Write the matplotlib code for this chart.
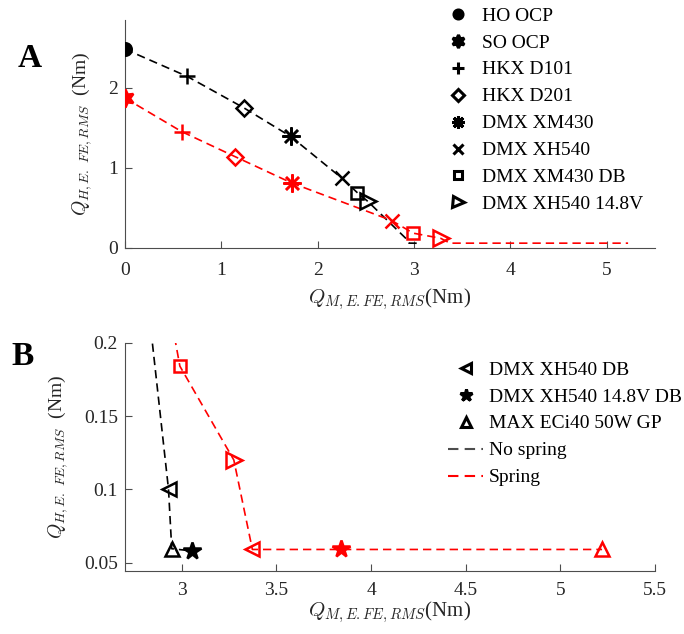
import numpy as np
import matplotlib
matplotlib.use("Agg")
import matplotlib.pyplot as plt
from matplotlib.lines import Line2D

plt.rcParams['font.family'] = 'serif'
plt.rcParams['font.serif'] = ['Liberation Serif', 'DejaVu Serif']
plt.rcParams['mathtext.fontset'] = 'cm'

# device names
names = ["HO OCP", "SO OCP", "HKX D101", "HKX D201", "DMX XM430", "DMX XH540",
         "DMX XM430 DB", "DMX XH540 14.8V", "DMX XH540 DB", "DMX XH540 14.8V DB",
         "MAX ECi40 50W GP"]

# no spring (black)
ns_names = ["HO OCP", "HKX D101", "HKX D201", "DMX XM430", "DMX XH540", "DMX XM430 DB",
            "DMX XH540 14.8V", "DMX XH540 DB", "MAX ECi40 50W GP", "DMX XH540 14.8V DB"]
ns_x = [0.0, 0.645, 1.23, 1.72, 2.25, 2.41, 2.52, 2.93, 2.947, 3.054]
ns_y = [2.48, 2.14, 1.75, 1.39, 0.87, 0.69, 0.58, 0.100, 0.0595, 0.058]

# spring (red)
sp_names = ["SO OCP", "HKX D101", "HKX D201", "DMX XM430", "DMX XH540", "DMX XM430 DB",
            "DMX XH540 14.8V", "DMX XH540 DB", "DMX XH540 14.8V DB", "MAX ECi40 50W GP"]
sp_x = [0.0, 0.59, 1.14, 1.73, 2.77, 2.99, 3.275, 3.373, 3.84, 5.22]
sp_y = [1.87, 1.45, 1.14, 0.81, 0.34, 0.184, 0.120, 0.059, 0.059, 0.059]

styles = {
    "HO OCP": dict(marker='o', ms=9, filled=True),
    "SO OCP": dict(marker=(6, 1, 0), ms=13, filled=True),
    "HKX D101": dict(marker='+', ms=12, filled=False),
    "HKX D201": dict(marker='D', ms=8, filled=False),
    "DMX XM430": dict(marker=(8, 2, 0), ms=13, filled=False),
    "DMX XH540": dict(marker='x', ms=10, filled=False),
    "DMX XM430 DB": dict(marker='s', ms=8, filled=False),
    "DMX XH540 14.8V": dict(marker='>', ms=11, filled=False),
    "DMX XH540 DB": dict(marker='<', ms=10, filled=False),
    "DMX XH540 14.8V DB": dict(marker='*', ms=13, filled=True),
    "MAX ECi40 50W GP": dict(marker='^', ms=10, filled=False),
}

legend_a = names[:8]
legend_b = names[8:]
shown_a = names[:8]

dash = (0, (5, 3))


def draw_marker(ax, name, x, y, color):
    st = styles[name]
    ax.plot([x], [y], linestyle='none', marker=st['marker'], ms=st['ms'],
            mec=color, mfc=color if st['filled'] else 'none', mew=1.8, zorder=3)


def style_axes(ax, xpad):
    for s in ['top', 'right']:
        ax.spines[s].set_visible(False)
    for s in ['left', 'bottom']:
        ax.spines[s].set_color('0.3')
    ax.tick_params(direction='in', length=5, colors='0.3', labelsize=14,
                   labelcolor='0.15')
    ax.tick_params(axis='x', pad=xpad)
    ax.tick_params(axis='y', pad=5)


def legend_handle(name):
    st = styles[name]
    return Line2D([], [], linestyle='none', marker=st['marker'], ms=st['ms'] * 0.72,
                  mec='k', mfc='k' if st['filled'] else 'none', mew=2.2, color='k')


fig = plt.figure(figsize=(6.84, 6.34), dpi=100)
ylab = r"$Q_{H,E.\ FE,RMS}$  (Nm)"
xlab = r"$Q_{M,E.FE,RMS}$(Nm)"

# panel A
axA = fig.add_axes([0.1827, 0.609, 0.775, 0.359])
axA.plot(ns_x, ns_y, color='k', linestyle=dash, lw=1.2, zorder=2)
axA.plot(sp_x, sp_y, color='r', linestyle=dash, lw=1.2, zorder=2)
for n, x, y in zip(ns_names, ns_x, ns_y):
    if n in shown_a:
        draw_marker(axA, n, x, y, 'k')
for n, x, y in zip(sp_names, sp_x, sp_y):
    if n in shown_a:
        draw_marker(axA, n, x, y, 'r')
axA.set_xlim(0, 5.5)
axA.set_ylim(0, 2.84)
axA.set_xticks([0, 1, 2, 3, 4, 5])
axA.set_yticks([0, 1, 2])
style_axes(axA, 10)
axA.set_xlabel(xlab, fontsize=15, labelpad=5, color='0.15')
axA.set_ylabel(ylab, fontsize=14, labelpad=10, color='0.15')
fig.legend([legend_handle(n) for n in legend_a], legend_a, loc='upper left',
           bbox_to_anchor=(0.6447, 0.989), frameon=False, fontsize=14,
           handlelength=1.8, handletextpad=0.3, labelspacing=0.48,
           borderpad=0, borderaxespad=0)

# panel B
axB = fig.add_axes([0.1827, 0.0998, 0.775, 0.3597])
axB.plot(ns_x, ns_y, color='k', linestyle=dash, lw=1.2, zorder=2)
axB.plot(sp_x, sp_y, color='r', linestyle=dash, lw=1.2, zorder=2)
for n, x, y in zip(ns_names, ns_x, ns_y):
    draw_marker(axB, n, x, y, 'k')
for n, x, y in zip(sp_names, sp_x, sp_y):
    draw_marker(axB, n, x, y, 'r')
axB.set_xlim(2.7, 5.5)
axB.set_ylim(0.0445, 0.2)
axB.set_xticks([3, 3.5, 4, 4.5, 5, 5.5])
axB.set_xticklabels(["3", "3.5", "4", "4.5", "5", "5.5"])
axB.set_yticks([0.05, 0.1, 0.15, 0.2])
axB.set_yticklabels(["0.05", "0.1", "0.15", "0.2"])
style_axes(axB, 8)
axB.set_xlabel(xlab, fontsize=15, labelpad=0, color='0.15')
axB.set_ylabel(ylab, fontsize=14, labelpad=10, color='0.15')
hb = [legend_handle(n) for n in legend_b]
hb.append(Line2D([], [], color='0.3', linestyle=dash, lw=1.5))
hb.append(Line2D([], [], color='r', linestyle=dash, lw=1.5))
fig.legend(hb, legend_b + ["No spring", "Spring"], loc='upper left',
           bbox_to_anchor=(0.655, 0.4306), frameon=False, fontsize=14,
           handlelength=1.8, handletextpad=0.3, labelspacing=0.48,
           borderpad=0, borderaxespad=0)

fig.text(0.044, 0.9085, "A", fontsize=24, fontweight='bold', family='Liberation Serif',
         ha='center', va='center')
fig.text(0.033, 0.437, "B", fontsize=24, fontweight='bold', family='Liberation Serif',
         ha='center', va='center')

fig.savefig("out.png", dpi=100)
